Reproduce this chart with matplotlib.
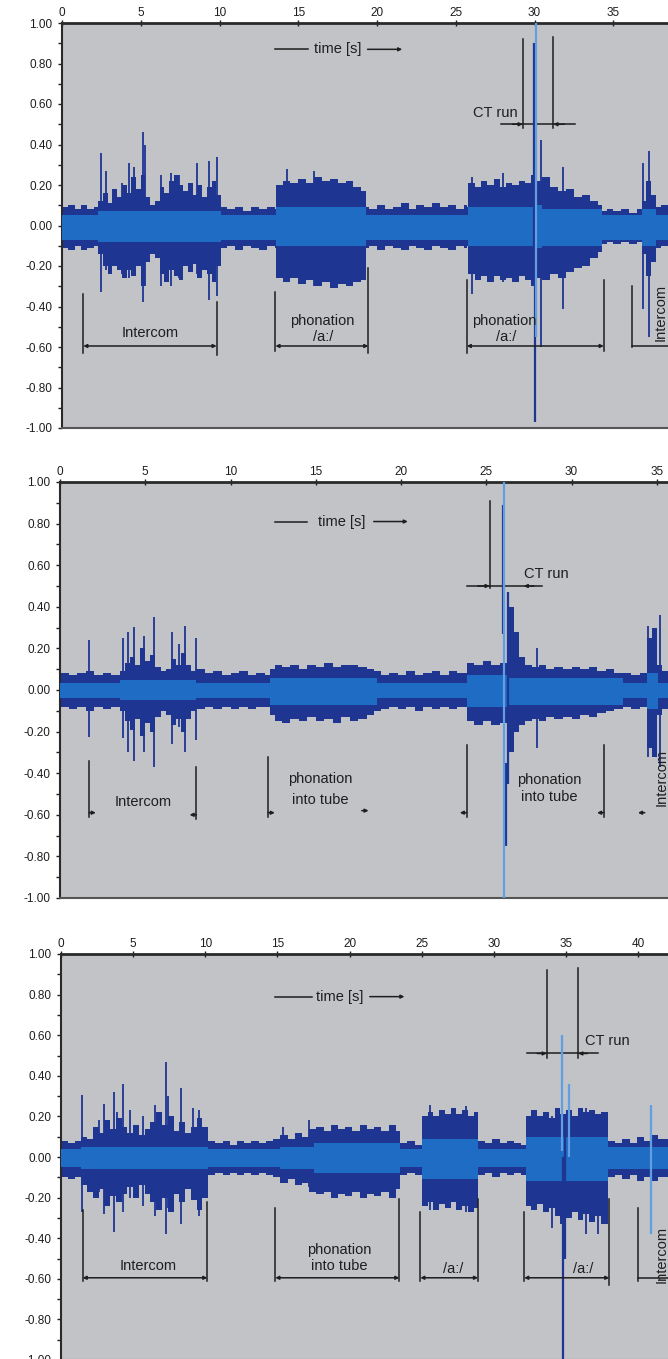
import matplotlib.pyplot as plt
import numpy as np
from matplotlib.ticker import MultipleLocator

plt.rcParams['font.family'] = ['Liberation Sans', 'DejaVu Sans']

BG = '#c1c3c7'
DARK = '#1f3592'
MID = '#1f6cc4'
LIGHT = '#5f9fe2'
INK = '#1e1e1e'

y_ticks = [1.0, 0.8, 0.6, 0.4, 0.2, 0.0, -0.2, -0.4, -0.6, -0.8, -1.0]
y_labels = ['1.00', '0.80', '0.60', '0.40', '0.20', '0.00', '-0.20', '-0.40', '-0.60', '-0.80', '-1.00']

# ---------------- panel 1 (phonation /a:/) ----------------
t1 = [0, 0.4, 0.8, 1.2, 1.6, 2.0, 2.3, 2.6, 2.9, 3.2, 3.5, 3.8, 4.1, 4.4, 4.7, 5.0, 5.3, 5.6,
      5.9, 6.2, 6.5, 6.8, 7.1, 7.4, 7.7, 8.0, 8.3, 8.6, 8.9, 9.2, 9.5, 9.8, 10.1, 10.5, 11,
      11.5, 12, 12.5, 13, 13.5, 13.6, 14, 14.5, 15, 15.5, 16, 16.5, 17, 17.5, 18, 18.5, 19,
      19.3, 19.5, 20, 20.5, 21, 21.5, 22, 22.5, 23, 23.5, 24, 24.5, 25, 25.5, 25.7, 25.8,
      26.2, 26.6, 27, 27.4, 27.8, 28.2, 28.6, 29, 29.4, 29.8, 30.0, 30.5, 31, 31.5, 32, 32.5,
      33, 33.5, 34, 34.3, 34.6, 35, 35.5, 36, 36.5, 36.8, 37.1, 37.4, 37.7, 38, 38.5]
up1 = [0.09, 0.10, 0.08, 0.10, 0.08, 0.09, 0.12, 0.16, 0.11, 0.18, 0.14, 0.20, 0.16, 0.24,
       0.18, 0.25, 0.14, 0.10, 0.12, 0.19, 0.16, 0.22, 0.25, 0.20, 0.17, 0.21, 0.15, 0.20,
       0.14, 0.19, 0.22, 0.15, 0.09, 0.08, 0.09, 0.07, 0.09, 0.08, 0.09, 0.08, 0.20, 0.22,
       0.21, 0.23, 0.21, 0.24, 0.22, 0.23, 0.21, 0.22, 0.19, 0.17, 0.09, 0.08, 0.10, 0.08,
       0.09, 0.11, 0.08, 0.10, 0.09, 0.11, 0.09, 0.10, 0.08, 0.10, 0.09, 0.21, 0.19, 0.22,
       0.20, 0.23, 0.19, 0.21, 0.20, 0.22, 0.21, 0.25, 0.22, 0.24, 0.19, 0.17, 0.18, 0.14,
       0.15, 0.12, 0.10, 0.07, 0.08, 0.07, 0.08, 0.06, 0.08, 0.12, 0.22, 0.15, 0.09, 0.10, 0.08]
lo1 = [-0.11, -0.12, -0.10, -0.12, -0.11, -0.10, -0.14, -0.20, -0.24, -0.20, -0.22, -0.26,
       -0.22, -0.25, -0.20, -0.30, -0.18, -0.14, -0.16, -0.24, -0.28, -0.22, -0.25, -0.27,
       -0.20, -0.23, -0.19, -0.26, -0.22, -0.24, -0.28, -0.20, -0.11, -0.10, -0.12, -0.10,
       -0.11, -0.12, -0.10, -0.11, -0.26, -0.28, -0.26, -0.29, -0.27, -0.30, -0.28, -0.31,
       -0.29, -0.30, -0.28, -0.27, -0.11, -0.10, -0.12, -0.10, -0.11, -0.12, -0.10, -0.11,
       -0.12, -0.10, -0.11, -0.12, -0.10, -0.11, -0.10, -0.24, -0.27, -0.25, -0.28, -0.25,
       -0.27, -0.26, -0.28, -0.25, -0.27, -0.30, -0.26, -0.27, -0.24, -0.26, -0.23, -0.21,
       -0.20, -0.16, -0.13, -0.09, -0.08, -0.09, -0.08, -0.09, -0.08, -0.14, -0.25, -0.18,
       -0.11, -0.10, -0.11]
core_t1 = [0, 2.3, 10.1, 13.6, 19.3, 25.8, 30.0, 30.5, 34.3, 36.8, 37.7, 38.5]
core_up1 = [0.05, 0.07, 0.05, 0.09, 0.05, 0.09, 0.10, 0.08, 0.05, 0.08, 0.05, 0.05]
core_lo1 = [-0.07, -0.08, -0.07, -0.10, -0.07, -0.10, -0.11, -0.10, -0.07, -0.10, -0.07, -0.07]
spike_t1 = [2.45, 2.8, 3.8, 4.27, 4.6, 5.16, 5.3, 6.3, 6.9, 7.4, 8.55, 9.35, 9.86, 14.3, 16.0,
            26.0, 28.0, 30.4, 31.8, 36.9, 37.3]
spike_top1 = [0.36, 0.27, 0.21, 0.31, 0.29, 0.46, 0.40, 0.25, 0.26, 0.25, 0.31, 0.32, 0.34,
              0.28, 0.27, 0.24, 0.26, 0.42, 0.29, 0.31, 0.37]
spike_bot1 = [-0.33, -0.22, -0.24, -0.26, -0.20, -0.38, -0.30, -0.30, -0.30, -0.26, -0.24,
              -0.37, -0.35, -0.27, -0.30, -0.34, -0.28, -0.60, -0.41, -0.41, -0.55]
ct_dark_t1 = [29.95, 30.05]
ct_dark_top1 = [0.90, -0.20]
ct_dark_bot1 = [-0.30, -0.97]
ct_light_t1 = [30.12]
ct_light_top1 = [1.0]
ct_light_bot1 = [-0.55]

# ---------------- panel 2 (phonation into tube) ----------------
t2 = [0, 0.5, 1, 1.5, 2, 2.5, 3, 3.5, 3.8, 4.1, 4.4, 4.7, 5.0, 5.3, 5.6, 5.9, 6.2, 6.5, 6.8,
      7.1, 7.4, 7.7, 8.0, 8.5, 9, 9.5, 10, 10.5, 11, 11.5, 12, 12.3, 12.6, 13, 13.5, 14, 14.5,
      15, 15.5, 16, 16.5, 17, 17.5, 18, 18.4, 18.8, 19.3, 19.8, 20.3, 20.8, 21.3, 21.8, 22.3,
      22.8, 23.3, 23.85, 24.3, 24.8, 25.3, 25.8, 26.3, 26.6, 26.9, 27.3, 27.7, 28.1, 28.5, 29,
      29.5, 30, 30.5, 31, 31.5, 32, 32.5, 33, 33.5, 34, 34.4, 34.7, 35.0, 35.3, 35.7]
up2 = [0.08, 0.07, 0.08, 0.09, 0.07, 0.08, 0.07, 0.09, 0.13, 0.16, 0.12, 0.20, 0.14, 0.17,
       0.11, 0.09, 0.10, 0.15, 0.12, 0.18, 0.12, 0.09, 0.10, 0.08, 0.09, 0.07, 0.08, 0.09,
       0.07, 0.08, 0.07, 0.10, 0.12, 0.11, 0.12, 0.10, 0.12, 0.11, 0.13, 0.11, 0.12, 0.12,
       0.11, 0.10, 0.09, 0.07, 0.08, 0.07, 0.09, 0.07, 0.08, 0.09, 0.07, 0.09, 0.08, 0.13,
       0.12, 0.14, 0.12, 0.13, 0.40, 0.28, 0.16, 0.12, 0.11, 0.12, 0.10, 0.11, 0.10, 0.11,
       0.10, 0.11, 0.09, 0.10, 0.08, 0.08, 0.07, 0.08, 0.25, 0.30, 0.12, 0.09, 0.08]
lo2 = [-0.08, -0.09, -0.08, -0.10, -0.08, -0.09, -0.08, -0.10, -0.15, -0.19, -0.14, -0.22,
       -0.16, -0.20, -0.13, -0.10, -0.12, -0.17, -0.14, -0.20, -0.14, -0.10, -0.09, -0.08,
       -0.09, -0.08, -0.09, -0.08, -0.09, -0.08, -0.08, -0.12, -0.15, -0.16, -0.14, -0.15,
       -0.13, -0.15, -0.14, -0.16, -0.13, -0.15, -0.14, -0.12, -0.10, -0.09, -0.08, -0.09,
       -0.08, -0.10, -0.08, -0.09, -0.08, -0.09, -0.08, -0.15, -0.17, -0.15, -0.17, -0.16,
       -0.30, -0.20, -0.17, -0.15, -0.14, -0.15, -0.13, -0.14, -0.13, -0.14, -0.12, -0.13,
       -0.11, -0.10, -0.09, -0.08, -0.09, -0.08, -0.28, -0.32, -0.12, -0.09, -0.08]
core_t2 = [0, 3.5, 8.0, 12.3, 18.6, 23.85, 26.3, 33.0, 34.4, 35.1, 35.7]
core_up2 = [0.035, 0.05, 0.035, 0.06, 0.035, 0.07, 0.06, 0.035, 0.08, 0.035, 0.035]
core_lo2 = [-0.04, -0.05, -0.04, -0.07, -0.04, -0.08, -0.07, -0.04, -0.09, -0.04, -0.04]
spike_t2 = [1.7, 3.7, 4.0, 4.35, 4.95, 5.5, 6.55, 7.0, 7.33, 8.0, 28.0, 34.5, 35.2]
spike_top2 = [0.24, 0.25, 0.28, 0.305, 0.26, 0.35, 0.28, 0.22, 0.31, 0.25, 0.20, 0.31, 0.36]
spike_bot2 = [-0.225, -0.23, -0.30, -0.34, -0.30, -0.37, -0.26, -0.18, -0.30, -0.24, -0.28,
              -0.32, -0.37]
ct_dark_t2 = [25.98, 26.15, 26.3]
ct_dark_top2 = [0.89, -0.35, 0.47]
ct_dark_bot2 = [0.27, -0.75, -0.45]
ct_light_t2 = [26.06]
ct_light_top2 = [1.0]
ct_light_bot2 = [-1.0]

# ---------------- panel 3 (tube, then /a:/) ----------------
t3 = [0, 0.5, 1.0, 1.4, 1.8, 2.2, 2.6, 3.0, 3.4, 3.8, 4.2, 4.6, 5.0, 5.4, 5.8, 6.2, 6.6, 7.0,
      7.4, 7.8, 8.2, 8.6, 9.0, 9.4, 9.8, 10.2, 10.7, 11.2, 11.7, 12.2, 12.7, 13.2, 13.7, 14.2,
      14.7, 15.2, 15.7, 16.2, 16.7, 17.2, 17.7, 18.2, 18.7, 19.2, 19.7, 20.2, 20.7, 21.2,
      21.7, 22.2, 22.7, 23.2, 23.5, 24.0, 24.5, 25.0, 25.4, 25.8, 26.2, 26.6, 27.0, 27.4,
      27.8, 28.2, 28.6, 28.9, 29.4, 29.9, 30.4, 30.9, 31.4, 31.9, 32.2, 32.6, 33.0, 33.4,
      33.8, 34.2, 34.6, 35.0, 35.4, 35.8, 36.2, 36.6, 37.0, 37.4, 37.9, 38.4, 38.9, 39.4,
      39.9, 40.4, 40.9, 41.4, 42.1]
up3 = [0.08, 0.07, 0.08, 0.10, 0.09, 0.15, 0.12, 0.18, 0.14, 0.19, 0.15, 0.12, 0.16, 0.11,
       0.14, 0.17, 0.22, 0.16, 0.20, 0.13, 0.17, 0.12, 0.15, 0.19, 0.15, 0.08, 0.07, 0.08,
       0.06, 0.08, 0.07, 0.08, 0.07, 0.08, 0.09, 0.11, 0.09, 0.12, 0.10, 0.14, 0.15, 0.13,
       0.16, 0.14, 0.15, 0.13, 0.16, 0.14, 0.15, 0.13, 0.16, 0.13, 0.07, 0.08, 0.06, 0.20,
       0.22, 0.20, 0.23, 0.21, 0.24, 0.21, 0.23, 0.20, 0.22, 0.08, 0.07, 0.09, 0.07, 0.08,
       0.07, 0.06, 0.20, 0.23, 0.20, 0.22, 0.19, 0.24, 0.21, 0.23, 0.20, 0.24, 0.22, 0.23,
       0.21, 0.22, 0.08, 0.07, 0.09, 0.07, 0.10, 0.08, 0.11, 0.09, 0.08]
lo3 = [-0.10, -0.11, -0.10, -0.14, -0.17, -0.20, -0.16, -0.24, -0.19, -0.22, -0.18, -0.15,
       -0.20, -0.14, -0.18, -0.22, -0.26, -0.20, -0.27, -0.18, -0.22, -0.16, -0.21, -0.26,
       -0.20, -0.09, -0.08, -0.09, -0.08, -0.09, -0.08, -0.09, -0.08, -0.09, -0.10, -0.13,
       -0.11, -0.14, -0.13, -0.17, -0.18, -0.17, -0.20, -0.18, -0.19, -0.17, -0.20, -0.18,
       -0.19, -0.17, -0.20, -0.16, -0.09, -0.08, -0.09, -0.24, -0.22, -0.26, -0.23, -0.25,
       -0.22, -0.26, -0.24, -0.27, -0.25, -0.09, -0.08, -0.10, -0.08, -0.09, -0.08, -0.09,
       -0.24, -0.26, -0.23, -0.27, -0.25, -0.29, -0.33, -0.30, -0.27, -0.31, -0.28, -0.32,
       -0.29, -0.33, -0.10, -0.09, -0.11, -0.09, -0.12, -0.10, -0.12, -0.10, -0.09]
core_t3 = [0, 1.4, 10.2, 15.2, 17.5, 23.5, 25.0, 28.9, 32.2, 37.9, 42.1]
core_up3 = [0.04, 0.05, 0.04, 0.05, 0.07, 0.04, 0.09, 0.04, 0.10, 0.05, 0.05]
core_lo3 = [-0.05, -0.06, -0.05, -0.06, -0.08, -0.05, -0.11, -0.05, -0.12, -0.06, -0.06]
spike_t3 = [1.43, 2.6, 3.0, 3.67, 3.9, 4.27, 4.79, 5.7, 6.5, 7.25, 7.4, 8.3, 9.17, 9.58, 15.4,
            17.2, 25.6, 28.1, 34.0, 36.4, 37.2]
spike_top3 = [0.305, 0.18, 0.26, 0.32, 0.22, 0.36, 0.23, 0.20, 0.255, 0.47, 0.30, 0.34, 0.24,
              0.23, 0.15, 0.18, 0.255, 0.25, 0.20, 0.24, 0.20]
spike_bot3 = [-0.27, -0.17, -0.28, -0.37, -0.20, -0.27, -0.20, -0.24, -0.29, -0.38, -0.25,
              -0.33, -0.20, -0.29, -0.13, -0.15, -0.26, -0.27, -0.35, -0.38, -0.38]
ct_dark_t3 = [34.9, 34.82]
ct_dark_top3 = [0.10, 0.0]
ct_dark_bot3 = [-0.50, -1.0]
ct_light_t3 = [34.72, 35.2, 40.9]
ct_light_top3 = [0.60, 0.36, 0.255]
ct_light_bot3 = [0.03, 0.0, -0.38]

# figure geometry (pixels of the 668x1359 reference)
W, H = 668, 1359
fig = plt.figure(figsize=(W / 100, H / 100), dpi=100)
fig.patch.set_facecolor('white')


def make_axes(left_px, top_px, bottom_px, x_max):
    ax = fig.add_axes([left_px / W, 1 - bottom_px / H, (W - left_px) / W, (bottom_px - top_px) / H])
    ax.set_facecolor(BG)
    ax.set_xlim(0, x_max)
    ax.set_ylim(-1, 1)
    ax.xaxis.tick_top()
    xt = list(range(0, int(x_max) + 1, 5))
    ax.set_xticks(xt)
    ax.set_xticklabels([str(v) for v in xt])
    ax.set_yticks(y_ticks)
    ax.set_yticklabels(y_labels)
    ax.yaxis.set_minor_locator(MultipleLocator(0.1))
    ax.tick_params(axis='x', direction='inout', length=4, width=1, pad=1,
                   labelsize=8.5, colors=INK)
    ax.tick_params(axis='y', which='both', direction='out', length=3, width=1, pad=4,
                   labelsize=8.5, colors=INK)
    ax.spines['right'].set_visible(False)
    ax.spines['top'].set_linewidth(2)
    ax.spines['top'].set_color('#2a2a2a')
    ax.spines['left'].set_linewidth(1.5)
    ax.spines['left'].set_color('#2a2a2a')
    ax.spines['bottom'].set_linewidth(1.5)
    ax.spines['bottom'].set_color('#555555')
    return ax


def draw_wave(ax, t, up, lo, ct, cu, cl, st, stop, sbot, dt, dtop, dbot, lt, ltop, lbot):
    ax.fill_between(t, lo, up, step='post', color=DARK, lw=0, zorder=2)
    ax.vlines(st, sbot, stop, color=DARK, lw=1.3, zorder=2)
    ax.fill_between(ct, cl, cu, step='post', color=MID, lw=0, zorder=3)
    ax.vlines(dt, dbot, dtop, color=DARK, lw=1.6, zorder=4)
    ax.vlines(lt, lbot, ltop, color=LIGHT, lw=1.6, zorder=4)


def vline(ax, x, y0, y1):
    ax.plot([x, x], [y0, y1], color=INK, lw=1.1, zorder=5)


def bracket(ax, x0, x1, y):
    ax.annotate('', xy=(x1, y), xytext=(x0, y),
                arrowprops=dict(arrowstyle='<|-|>', color=INK, lw=1.1, mutation_scale=5,
                                shrinkA=0, shrinkB=0), zorder=5)


def tip(ax, x0, x1, y):
    ax.annotate('', xy=(x1, y), xytext=(x0, y),
                arrowprops=dict(arrowstyle='-|>', color=INK, lw=1.1, mutation_scale=5,
                                shrinkA=0, shrinkB=0), zorder=5)


def time_arrow(ax, x0, x1, xc, x2, x3, y):
    ax.plot([x0, x1], [y, y], color=INK, lw=1.1)
    ax.text(xc, y, 'time [s]', ha='center', va='center', fontsize=10.5, color=INK)
    tip(ax, x2, x3, y)


def label(ax, x, y, s, rot=0):
    ax.text(x, y, s, ha='center', va='center', fontsize=10.5, color=INK, rotation=rot, zorder=6)


# ---- panel 1 ----
ax1 = make_axes(62, 23, 428, (W - 62) / 15.75)
draw_wave(ax1, t1, up1, lo1, core_t1, core_up1, core_lo1, spike_t1, spike_top1, spike_bot1,
          ct_dark_t1, ct_dark_top1, ct_dark_bot1, ct_light_t1, ct_light_top1, ct_light_bot1)
time_arrow(ax1, 13.5, 15.6, 17.5, 19.4, 21.6, 0.87)
vline(ax1, 29.25, 0.92, 0.48)
vline(ax1, 31.2, 0.93, 0.48)
ax1.plot([27.85, 32.6], [0.50, 0.50], color=INK, lw=1.1)
tip(ax1, 28.6, 29.25, 0.50)
tip(ax1, 31.9, 31.2, 0.50)
ax1.text(27.5, 0.555, 'CT run', ha='center', va='center', fontsize=10.5, color=INK)
vline(ax1, 1.35, -0.34, -0.63)
vline(ax1, 9.82, -0.38, -0.64)
bracket(ax1, 1.35, 9.82, -0.595)
label(ax1, 5.6, -0.53, 'Intercom')
vline(ax1, 13.55, -0.33, -0.62)
vline(ax1, 19.45, -0.21, -0.63)
bracket(ax1, 13.55, 19.45, -0.595)
label(ax1, 16.5, -0.47, 'phonation')
label(ax1, 16.6, -0.55, '/a:/')
vline(ax1, 25.7, -0.27, -0.63)
vline(ax1, 34.4, -0.27, -0.62)
bracket(ax1, 25.7, 34.4, -0.595)
label(ax1, 28.1, -0.47, 'phonation')
label(ax1, 28.2, -0.55, '/a:/')
vline(ax1, 36.2, -0.30, -0.60)
ax1.plot([36.2, 38.5], [-0.595, -0.595], color=INK, lw=1.1)
label(ax1, 38.0, -0.43, 'Intercom', rot=90)

# ---- panel 2 ----
ax2 = make_axes(60, 482, 898, (W - 60) / 17.05)
draw_wave(ax2, t2, up2, lo2, core_t2, core_up2, core_lo2, spike_t2, spike_top2, spike_bot2,
          ct_dark_t2, ct_dark_top2, ct_dark_bot2, ct_light_t2, ct_light_top2, ct_light_bot2)
time_arrow(ax2, 12.6, 14.5, 16.5, 18.4, 20.4, 0.81)
vline(ax2, 25.2, 0.91, 0.49)
ax2.plot([23.9, 28.25], [0.50, 0.50], color=INK, lw=1.1)
tip(ax2, 24.5, 25.2, 0.50)
tip(ax2, 27.8, 27.2, 0.50)
ax2.text(28.5, 0.56, 'CT run', ha='center', va='center', fontsize=10.5, color=INK)
vline(ax2, 1.7, -0.34, -0.61)
tip(ax2, 1.7, 2.1, -0.59)
vline(ax2, 8.0, -0.37, -0.62)
tip(ax2, 8.0, 7.6, -0.60)
label(ax2, 4.9, -0.54, 'Intercom')
vline(ax2, 12.2, -0.32, -0.61)
tip(ax2, 12.2, 12.6, -0.59)
tip(ax2, 17.7, 18.1, -0.58)
label(ax2, 15.25, -0.43, 'phonation')
label(ax2, 15.25, -0.53, 'into tube')
vline(ax2, 23.85, -0.265, -0.61)
tip(ax2, 23.85, 23.45, -0.59)
label(ax2, 28.7, -0.435, 'phonation')
label(ax2, 28.7, -0.515, 'into tube')
vline(ax2, 31.9, -0.265, -0.61)
tip(ax2, 31.9, 31.5, -0.59)
tip(ax2, 34.3, 33.9, -0.59)
label(ax2, 35.3, -0.42, 'Intercom', rot=90)

# ---- panel 3 ----
ax3 = make_axes(61, 954, 1360, (W - 61) / 14.43)
draw_wave(ax3, t3, up3, lo3, core_t3, core_up3, core_lo3, spike_t3, spike_top3, spike_bot3,
          ct_dark_t3, ct_dark_top3, ct_dark_bot3, ct_light_t3, ct_light_top3, ct_light_bot3)
time_arrow(ax3, 14.83, 17.4, 19.3, 21.4, 23.8, 0.79)
vline(ax3, 33.66, 0.92, 0.49)
vline(ax3, 35.85, 0.93, 0.49)
ax3.plot([32.3, 37.2], [0.51, 0.51], color=INK, lw=1.1)
tip(ax3, 33.0, 33.66, 0.51)
tip(ax3, 36.5, 35.85, 0.51)
ax3.text(36.3, 0.57, 'CT run', ha='left', va='center', fontsize=10.5, color=INK)
vline(ax3, 1.5, -0.26, -0.61)
vline(ax3, 10.14, -0.22, -0.61)
bracket(ax3, 1.5, 10.14, -0.595)
label(ax3, 6.05, -0.535, 'Intercom')
vline(ax3, 14.85, -0.25, -0.61)
vline(ax3, 23.45, -0.205, -0.61)
bracket(ax3, 14.85, 23.45, -0.595)
label(ax3, 19.3, -0.46, 'phonation')
label(ax3, 19.3, -0.535, 'into tube')
vline(ax3, 24.9, -0.27, -0.61)
vline(ax3, 28.9, -0.205, -0.61)
bracket(ax3, 24.9, 28.9, -0.595)
label(ax3, 27.2, -0.55, '/a:/')
vline(ax3, 32.1, -0.27, -0.61)
vline(ax3, 38.0, -0.205, -0.63)
bracket(ax3, 32.1, 38.0, -0.595)
label(ax3, 36.2, -0.55, '/a:/')
vline(ax3, 40.0, -0.25, -0.61)
ax3.plot([40.0, 42.1], [-0.595, -0.595], color=INK, lw=1.1)
label(ax3, 41.6, -0.48, 'Intercom', rot=90)

fig.savefig('out.png', dpi=100)
